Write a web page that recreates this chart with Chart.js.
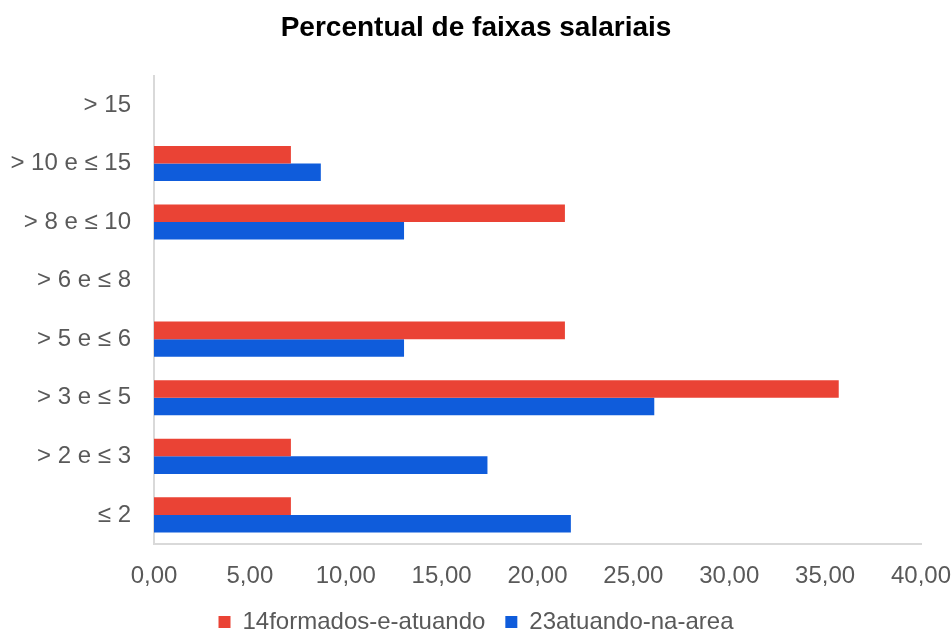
<!DOCTYPE html>
<html>
<head>
<meta charset="utf-8">
<script src="https://cdn.jsdelivr.net/npm/chart.js@4.4.0/dist/chart.umd.min.js"></script>
<style>
  html, body { margin: 0; padding: 0; background: #fff; }
  #wrap { width: 952px; height: 631px; }
</style>
</head>
<body>
<div id="wrap"><canvas id="faixasChart"></canvas></div>
<script>
// faixas salariais, de cima para baixo
const faixas = ['> 15', '> 10 e ≤ 15', '> 8 e ≤ 10', '> 6 e ≤ 8', '> 5 e ≤ 6', '> 3 e ≤ 5', '> 2 e ≤ 3', '≤ 2'];
const formadosAtuando = [0, 7.14, 21.43, 0, 21.43, 35.71, 7.14, 7.14];
const atuandoNaArea = [0, 8.70, 13.04, 0, 13.04, 26.09, 17.39, 21.74];
const xTicks = [0, 5, 10, 15, 20, 25, 30, 35, 40];

const fmt = v => v.toFixed(2).replace('.', ',');

const ctx = document.getElementById('faixasChart').getContext('2d');
new Chart(ctx, {
    type: 'bar',
    data: {
        labels: faixas,
        datasets: [{
            label: '14formados-e-atuando',
            data: formadosAtuando,
            backgroundColor: '#EA4335'
        }, {
            label: '23atuando-na-area',
            data: atuandoNaArea,
            backgroundColor: '#0F5CDB'
        }]
    },
    options: {
        indexAxis: 'y',
        responsive: true,
        maintainAspectRatio: false,
        animation: false,
        datasets: {
            bar: { categoryPercentage: 0.6, barPercentage: 1.0 }
        },
        layout: { padding: { left: 0, right: 0, top: 0, bottom: -13 } },
        scales: {
            x: {
                min: xTicks[0],
                max: xTicks[xTicks.length - 1],
                afterBuildTicks: axis => { axis.ticks = xTicks.map(v => ({ value: v })); },
                afterFit: axis => {
                    axis.paddingRight = 31;
                    axis.height -= 11;
                },
                grid: { display: false },
                border: { display: true, color: '#d9d9d9', width: 2 },
                ticks: {
                    padding: 10,
                    color: '#595959',
                    font: { family: 'Liberation Sans, Arial', size: 24 },
                    callback: v => fmt(v)
                }
            },
            y: {
                grid: { display: false },
                border: { display: true, color: '#d9d9d9', width: 2 },
                afterFit: axis => { axis.width = 154; },
                ticks: {
                    padding: 15,
                    color: '#595959',
                    font: { family: 'Liberation Sans, Arial', size: 24 }
                }
            }
        },
        plugins: {
            title: {
                display: true,
                text: 'Percentual de faixas salariais',
                color: '#000',
                font: { family: 'Liberation Sans, Arial', size: 28, weight: 'bold' },
                padding: { top: 11, bottom: 31 }
            },
            legend: {
                position: 'bottom',
                labels: {
                    color: '#595959',
                    font: { family: 'Liberation Sans, Arial', size: 24 },
                    boxWidth: 12,
                    boxHeight: 12,
                    padding: 20
                }
            },
            tooltip: { enabled: false }
        }
    }
});
</script>
</body>
</html>
